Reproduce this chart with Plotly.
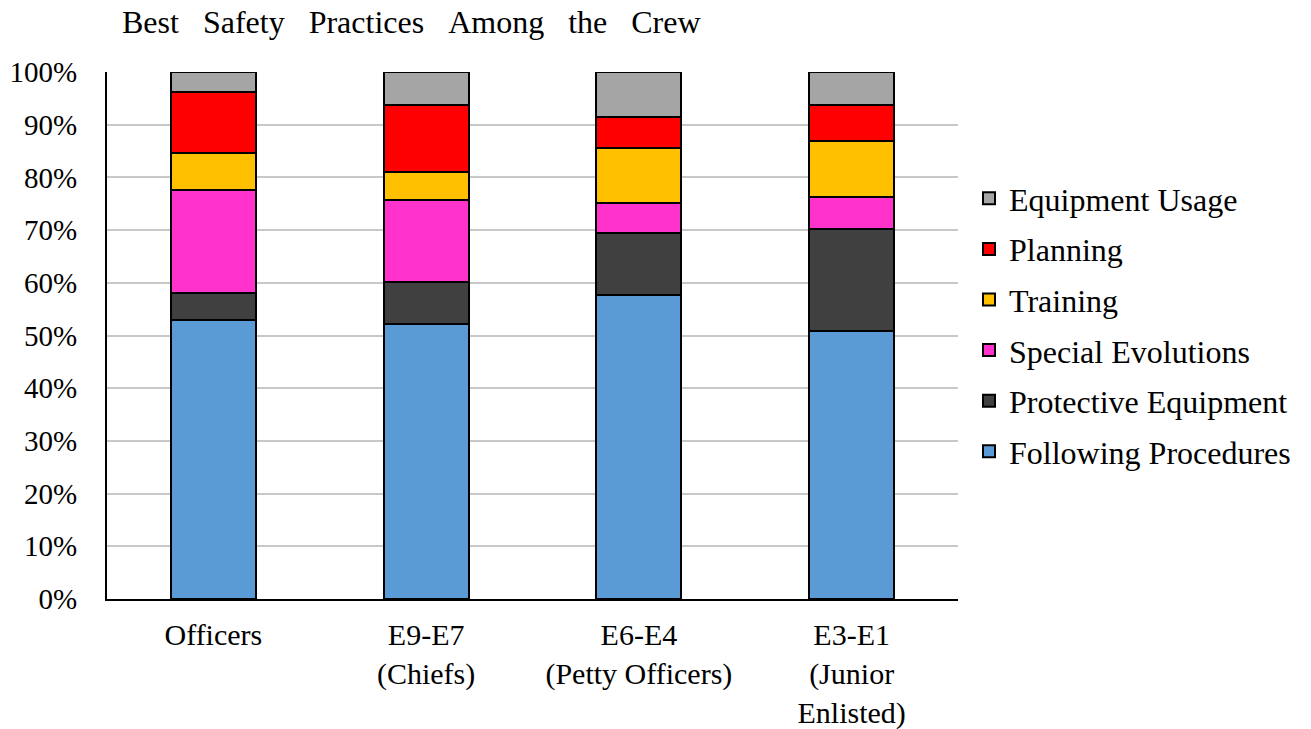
import plotly.graph_objects as go

categories = ["Officers", "E9-E7<br>(Chiefs)", "E6-E4<br>(Petty Officers)", "E3-E1<br>(Junior<br>Enlisted)"]
following_procedures = [53.0, 52.2, 57.6, 50.8]
protective_equipment = [5.1, 7.9, 11.8, 19.5]
special_evolutions = [19.5, 15.6, 5.8, 5.9]
training = [7.1, 5.3, 10.4, 10.7]
planning = [11.5, 12.8, 5.9, 6.8]
equipment_usage = [3.8, 6.2, 8.5, 6.3]

series = [
    ("Following Procedures", following_procedures, "#5b9bd5"),
    ("Protective Equipment", protective_equipment, "#404040"),
    ("Special Evolutions", special_evolutions, "#ff33cc"),
    ("Training", training, "#ffc000"),
    ("Planning", planning, "#ff0000"),
    ("Equipment Usage", equipment_usage, "#a5a5a5"),
]

FONT = "Liberation Serif, Times New Roman, serif"
title_text = "Best \u2002Safety \u2002Practices \u2002Among \u2002the \u2002Crew"

fig = go.Figure()
n = len(series)
for i, (name, vals, color) in enumerate(series):
    fig.add_trace(go.Bar(
        x=categories, y=vals, name=name, legendgroup=name, legendrank=1000 + (n - i),
        marker=dict(color=color, line=dict(color="black", width=2)),
        width=0.4,
    ))

fig.update_layout(
    barmode="stack",
    width=1311, height=729,
    margin=dict(l=107, r=353, t=72, b=130, autoexpand=False),
    paper_bgcolor="white", plot_bgcolor="white",
    font=dict(family=FONT, size=30, color="black"),
    title=dict(text=title_text, x=122/1311, xanchor="left",
               xref="container", y=1-22/729, yanchor="middle", yref="container",
               font=dict(family=FONT, size=32, color="black")),
    legend=dict(traceorder="grouped", x=969/1311, xref="container", xanchor="left",
                y=1-171/729, yref="container", yanchor="top",
                font=dict(family=FONT, size=32), itemwidth=30, tracegroupgap=6),
    bargap=0.6,
)
fig.update_yaxes(range=[0, 100], dtick=10, ticksuffix="%", showgrid=True,
                 gridcolor="#c8c8c8", gridwidth=2, showline=True, linecolor="black",
                 linewidth=2, ticks="", tickfont=dict(family=FONT, size=29), zeroline=False,
                 ticklabelstandoff=22, automargin=False)
fig.update_xaxes(showline=True, linecolor="black", linewidth=2, ticks="",
                 tickfont=dict(family=FONT, size=30), ticklabelstandoff=8, automargin=False)

fig.write_html("out.html")
